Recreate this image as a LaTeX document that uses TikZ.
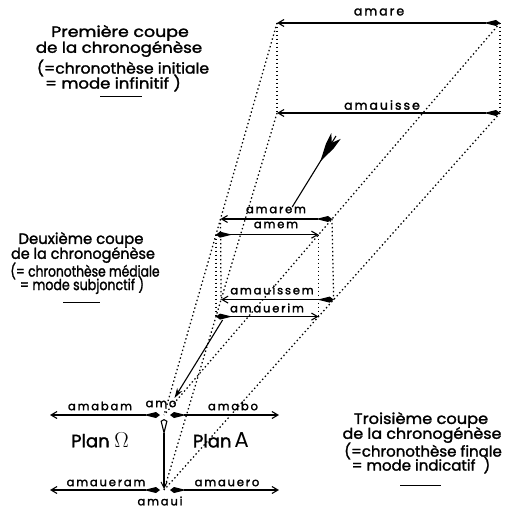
\documentclass[tikz,border=0pt]{standalone}
\usepackage{fontspec}
\usepackage{graphicx}
\setmainfont{Poppins}
\newfontfamily\txtfont[FakeBold=1.6]{Poppins}
\newfontfamily\lblfont[LetterSpace=16,FakeBold=2]{Poppins}
\newcommand\sx[2]{\scalebox{#1}[1]{#2}}
\usetikzlibrary{arrows.meta,calc}
\begin{document}
\begin{tikzpicture}[x=1pt,y=-1pt,
  dotl/.style={line width=1.25pt, dash pattern=on 1.4pt off 2.6pt},
  arr/.style={line width=1.2pt, {Kite[length=16pt,width=6pt,inset=12pt]}-{Straight Barb[length=6pt,width=7pt,line width=1.1pt]}},
  lbl/.style={font=\lblfont\fontsize{12.5}{12.5}\selectfont, inner sep=0pt},
  lbls/.style={font=\lblfont\fontsize{11.5}{11.5}\selectfont, inner sep=0pt},
  blk/.style={font=\txtfont\fontsize{15}{15}\selectfont, inner sep=0pt},
  plan/.style={font=\txtfont\fontsize{18}{18}\selectfont, inner sep=0pt},
  uline/.style={line width=1pt}]
\useasboundingbox (0,0) rectangle (505,510);
% key points
\coordinate (TL) at (277,23);
\coordinate (TR) at (500,23);
\coordinate (BL) at (277,113);
\coordinate (BR) at (500,113);
\coordinate (A1) at (164,415);
\coordinate (A2) at (164,490);
\coordinate (M1L) at ($(TL)!0.5!(A1)$);
\coordinate (M1R) at ($(TR)!0.5!(A1)$);
\coordinate (M2L) at ($(TL)!0.54!(A1)$);
\coordinate (M2R) at ($(TR)!0.54!(A1)$);
\coordinate (M3L) at ($(BL)!0.495!(A2)$);
\coordinate (M3R) at ($(BR)!0.495!(A2)$);
\coordinate (M4L) at ($(BL)!0.54!(A2)$);
\coordinate (M4R) at ($(BR)!0.54!(A2)$);
% dotted construction lines
\draw[dotl] (TL) -- (A1);
\draw[dotl] (TR) -- (A1);
\draw[dotl] (BL) -- (A2);
\draw[dotl] (BR) -- (A2);
\draw[dotl] (TL) -- (BL);
\draw[dotl] (TR) -- (BR);
\draw[dotl] (M1L) -- (M3L);
\draw[dotl] (M1R) -- (M3R);
\draw[dotl] (M2L) -- (M4L);
\draw[dotl] (M2R) -- (M4R);
% top arrows
\draw[arr] (TR) -- (TL);
\draw[arr] (BR) -- (BL);
\node[lbl] (lamare) at (379,12) {amare};
\node[lbl] (lamauisse) at (382,105) {amauisse};
% middle arrows
\draw[arr] (M1R) -- (M1L);
\draw[arr] (M2L) -- (M2R);
\draw[arr] (M3R) -- (M3L);
\draw[arr] (M4L) -- (M4R);
\node[lbls] (lamarem) at (276,210) {amarem};
\node[lbls] (lamem) at (276,225) {amem};
\node[lbls] (lamauissem) at (272,290) {amauissem};
\node[lbls] (lamauerim) at (267,308) {amauerim};
% bottom arrows
\coordinate (amoL) at (160,415);
\coordinate (amoR) at (170,415);
\coordinate (abamE) at (50,415);
\coordinate (aboE) at (279,415);
\coordinate (auiL) at (160,490);
\coordinate (auiR) at (170,490);
\coordinate (aueramE) at (50,490);
\coordinate (aueroE) at (279,490);
\draw[arr] (amoL) -- (abamE);
\draw[arr] (amoR) -- (aboE);
\draw[arr] (auiL) -- (aueramE);
\draw[arr] (auiR) -- (aueroE);
\node[lbls] (lamabam) at (100,406) {amabam};
\node[lbls] (lamo) at (161,404) {amo};
\node[lbls] (lamabo) at (233,406) {amabo};
\node[lbls] (lamaueram) at (106,483) {amaueram};
\node[lbls] (lamauero) at (227,483) {amauero};
\node[lbls] (lamaui) at (160,501) {amaui};
% vertical arrow amo -> amaui
\coordinate (vtop) at (164,419);
\coordinate (vbot) at (164,489);
\draw[line width=1.1pt, {Kite[open,length=16pt,width=7pt,inset=14pt]}-{Straight Barb[length=6pt,width=6pt,line width=1pt]}] (vtop) -- (vbot);
% feathered time arrow
\coordinate (F1) at (336,136);
\coordinate (F2) at (292.2,207);
\coordinate (F3) at (222.6,320);
\coordinate (F4) at (174.5,398);
\fill (320.3,161.5) -- (333.5,148.6) -- (340.7,138.9) -- (331.8,142.8) -- (331.3,133.1) -- (325.9,143.8) -- cycle;
\draw[line width=1.1pt] (F1) -- (F2);
\draw[line width=1.1pt, -{Stealth[length=10pt,width=6pt]}] (F3) -- (F4);
% text blocks
\node[blk] (p1) at (120,33) {\sx{1.16}{Première coupe}};
\node[blk] (p2) at (119,49) {\sx{1.11}{de la chronogénèse}};
\node[blk] (p3) at (123,68) {\sx{1.04}{(=chronothèse initiale}};
\node[blk] (p4) at (113,83) {\sx{1.1}{= mode infinitif\ )}};
\draw[uline] (100,97) -- (142,97);
\node[blk] (d1) at (81,240) {\sx{0.99}{Deuxième coupe}};
\node[blk] (d2) at (83,255) {\sx{0.96}{de la chronogénèse}};
\node[blk] (d3) at (85,271) {\sx{0.82}{(= chronothèse médiale}};
\node[blk] (d4) at (82,285) {\sx{0.84}{= mode subjonctif )}};
\draw[uline] (63,302) -- (100,302);
\node[blk] (t1) at (421,420) {\sx{1.08}{Troisième coupe}};
\node[blk] (t2) at (422,435) {\sx{1.06}{de la chronogénèse}};
\node[blk] (t3) at (423,451) {\sx{1.0}{(=chronothèse finale}};
\node[blk] (t4) at (421,465) {\sx{1.0}{= mode indicatif\ \ )}};
\draw[uline] (400,485) -- (441,485);
\node[plan] (planO) at (100,440) {Plan \scalebox{1.25}{$\Omega$}};
\node[plan] (planA) at (221,440) {Plan\,\scalebox{1.2}{$\mathrm{A}$}};
\end{tikzpicture}
\end{document}
